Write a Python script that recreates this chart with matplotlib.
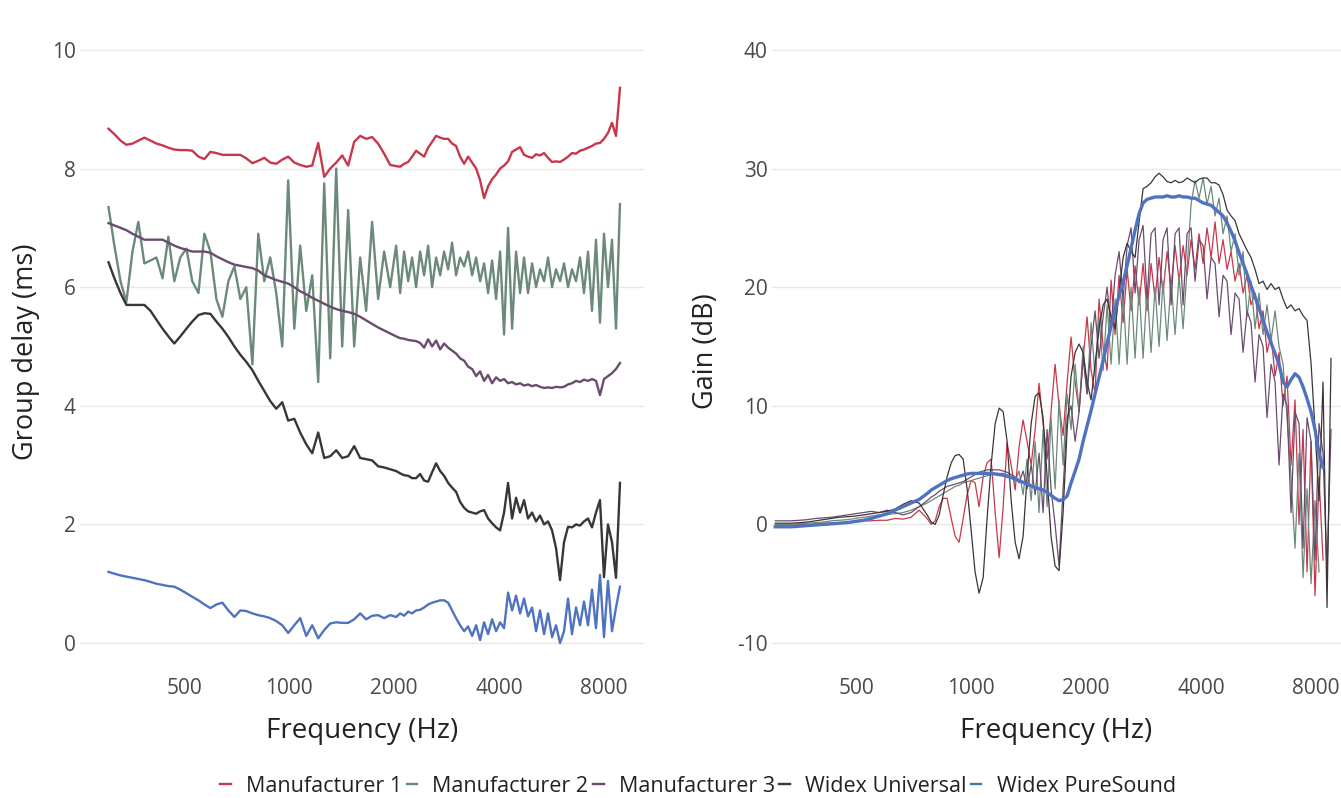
import numpy as np
import matplotlib
matplotlib.use('Agg')
import matplotlib.pyplot as plt
from matplotlib.ticker import FixedLocator, FixedFormatter, NullLocator

plt.rcParams['font.family'] = ['Open Sans', 'DejaVu Sans']
plt.rcParams['axes.unicode_minus'] = False
nan = np.nan

# ---- data -------------------------------------------------------------
series_names = ['Manufacturer 1', 'Manufacturer 2', 'Manufacturer 3',
                'Widex Universal', 'Widex PureSound']
series_colors = ['#c8374c', '#6b8a79', '#6a4c6e', '#3a3536', '#4f73c1']

# left panel: group delay (ms)
freq_gd = [303, 315, 328, 341, 355, 369, 384, 400, 416, 433,
           450, 468, 487, 507, 527, 549, 571, 594, 618, 643,
           669, 696, 724, 753, 784, 815, 848, 882, 918, 955,
           993, 1034, 1075, 1119, 1164, 1211, 1260, 1311, 1364, 1419,
           1476, 1536, 1598, 1662, 1729, 1799, 1872, 1948, 2026,
           2081, 2136, 2194, 2252, 2312, 2374, 2438, 2503, 2570, 2639,
           2710, 2782, 2857, 2933, 3011, 3092, 3175, 3260, 3347, 3437,
           3529, 3623, 3720, 3820, 3922, 4027, 4134, 4245, 4359, 4475,
           4595, 4718, 4844, 4974, 5107, 5243, 5384, 5528, 5676, 5828,
           5984, 6143, 6308, 6476, 6650, 6828, 7010, 7198, 7391, 7588,
           7791, 8000, 8214, 8434, 8660, 8891]

gd_m1 = [8.67, 8.58, 8.47, 8.40, 8.42, 8.47, 8.52, 8.47, 8.42, 8.39,
         8.35, 8.32, 8.31, 8.31, 8.30, 8.20, 8.16, 8.28, 8.26, 8.23,
         8.23, 8.23, 8.23, 8.17, 8.09, 8.13, 8.18, 8.10, 8.08, 8.15,
         8.20, 8.10, 8.06, 8.03, 8.05, 8.43, 7.86, 8.00, 8.10, 8.22,
         8.05, 8.45, 8.55, 8.50, 8.53, 8.42, 8.25, 8.06, 8.04,
         8.03, 8.08, 8.11, 8.20, 8.30, 8.25, 8.20, 8.35, 8.45, 8.55,
         8.52, 8.50, 8.50, 8.42, 8.38, 8.20, 8.08, 8.20, 8.10, 8.00,
         7.80, 7.50, 7.70, 7.82, 7.90, 8.00, 8.05, 8.12, 8.28, 8.32,
         8.36, 8.23, 8.20, 8.18, 8.24, 8.22, 8.26, 8.18, 8.11, 8.12,
         8.11, 8.15, 8.20, 8.26, 8.25, 8.30, 8.32, 8.35, 8.38, 8.42,
         8.43, 8.50, 8.60, 8.77, 8.55, 9.36]

gd_m2 = [7.35, 6.70, 6.10, 5.75, 6.60, 7.10, 6.40, 6.45, 6.50, 6.15,
         6.85, 6.10, 6.50, 6.65, 6.10, 5.90, 6.90, 6.60, 5.80, 5.50,
         6.10, 6.35, 5.80, 6.00, 4.70, 6.90, 6.10, 6.50, 5.90, 5.00,
         7.80, 5.30, 6.70, 5.60, 6.20, 4.40, 7.75, 4.80, 8.00, 5.00,
         7.30, 5.00, 6.50, 5.60, 7.10, 5.80, 6.60, 6.00, 6.70,
         5.90, 6.60, 6.10, 6.50, 6.00, 6.60, 6.20, 6.70, 6.00, 6.50,
         6.20, 6.60, 6.30, 6.75, 6.20, 6.50, 6.35, 6.60, 6.20, 6.50,
         6.10, 6.40, 5.90, 6.45, 5.80, 6.60, 5.20, 7.00, 5.30, 6.60,
         5.90, 6.50, 5.90, 6.40, 6.00, 6.30, 6.10, 6.50, 6.00, 6.30,
         6.10, 6.40, 6.00, 6.30, 6.10, 6.50, 5.90, 6.60, 5.60, 6.80,
         5.40, 6.90, 6.00, 6.80, 5.30, 7.40]

gd_m3 = [7.08, 7.04, 7.00, 6.96, 6.90, 6.85, 6.80, 6.80, 6.80, 6.80,
         6.75, 6.70, 6.66, 6.63, 6.60, 6.60, 6.60, 6.58, 6.52, 6.47,
         6.42, 6.38, 6.36, 6.34, 6.32, 6.28, 6.20, 6.16, 6.12, 6.09,
         6.06, 6.00, 5.93, 5.88, 5.82, 5.77, 5.72, 5.67, 5.63, 5.60,
         5.58, 5.55, 5.50, 5.44, 5.38, 5.32, 5.27, 5.22, 5.17,
         5.14, 5.13, 5.11, 5.10, 5.09, 5.06, 4.98, 5.12, 5.00, 5.10,
         4.95, 5.05, 4.98, 4.93, 4.88, 4.80, 4.76, 4.66, 4.62, 4.50,
         4.58, 4.42, 4.52, 4.38, 4.48, 4.42, 4.45, 4.38, 4.40, 4.36,
         4.38, 4.34, 4.36, 4.33, 4.35, 4.32, 4.30, 4.31, 4.30, 4.32,
         4.31, 4.32, 4.36, 4.38, 4.42, 4.40, 4.44, 4.42, 4.45, 4.42,
         4.18, 4.45, 4.50, 4.55, 4.62, 4.72]

gd_wu = [6.42, 6.15, 5.90, 5.70, 5.70, 5.70, 5.70, 5.60, 5.45, 5.30,
         5.17, 5.05, 5.17, 5.30, 5.42, 5.53, 5.56, 5.55, 5.42, 5.30,
         5.16, 5.00, 4.86, 4.74, 4.60, 4.42, 4.25, 4.08, 3.95, 4.06,
         3.75, 3.78, 3.55, 3.35, 3.20, 3.55, 3.12, 3.15, 3.25, 3.12,
         3.15, 3.32, 3.12, 3.10, 3.08, 2.98, 2.96, 2.93, 2.90,
         2.86, 2.83, 2.82, 2.78, 2.78, 2.85, 2.74, 2.72, 2.88, 3.03,
         2.90, 2.82, 2.70, 2.62, 2.55, 2.38, 2.28, 2.22, 2.20, 2.18,
         2.22, 2.24, 2.10, 2.02, 1.95, 1.90, 2.20, 2.70, 2.10, 2.45,
         2.20, 2.41, 2.10, 2.20, 2.05, 2.15, 2.00, 2.05, 1.90, 1.60,
         1.06, 1.70, 1.96, 1.95, 2.00, 1.98, 2.05, 2.10, 1.95, 2.20,
         2.41, 1.11, 2.00, 1.70, 1.10, 2.70]

gd_ps = [1.20, 1.17, 1.14, 1.12, 1.10, 1.08, 1.06, 1.03, 1.00, 0.98,
         0.96, 0.95, 0.90, 0.84, 0.78, 0.72, 0.65, 0.59, 0.65, 0.68,
         0.55, 0.44, 0.55, 0.54, 0.50, 0.47, 0.45, 0.42, 0.37, 0.30,
         0.17, 0.30, 0.42, 0.12, 0.30, 0.08, 0.22, 0.33, 0.35, 0.34,
         0.34, 0.40, 0.50, 0.40, 0.46, 0.47, 0.42, 0.47, 0.44,
         0.50, 0.46, 0.53, 0.50, 0.55, 0.56, 0.60, 0.65, 0.68, 0.70,
         0.72, 0.72, 0.68, 0.55, 0.42, 0.30, 0.20, 0.28, 0.12, 0.30,
         0.05, 0.35, 0.15, 0.40, 0.20, 0.35, 0.25, 0.85, 0.55, 0.80,
         0.50, 0.75, 0.45, 0.60, 0.20, 0.55, 0.15, 0.50, 0.10, 0.30,
         0.00, 0.20, 0.75, 0.15, 0.60, 0.30, 0.70, 0.30, 0.90, 0.25,
         1.15, 0.10, 1.05, 0.20, 0.60, 0.95]

# right panel: gain (dB)
freq_gain = [307, 322, 338, 355, 372, 391, 410, 430, 451, 474,
             497, 522, 547, 574, 603, 632, 664, 696, 731, 767,
             786, 805, 825, 845, 865, 887, 908, 930, 953, 976,
             1000, 1024, 1049, 1075, 1101, 1128, 1156, 1184, 1213, 1242,
             1273, 1304, 1335, 1368, 1401, 1436, 1471, 1506, 1543, 1581,
             1619, 1659, 1699, 1741, 1784, 1827, 1872, 1917, 1964, 2012,
             2061, 2111, 2163, 2216, 2270, 2325, 2382, 2440, 2500, 2561,
             2623, 2687, 2753, 2820, 2889, 2959, 3031, 3105, 3181, 3259,
             3338, 3420, 3503, 3589, 3676, 3766, 3858, 3952, 4049, 4147,
             4249, 4352, 4459, 4567, 4679, 4793, 4910, 5030, 5153, 5278,
             5407, 5539, 5674, 5813, 5954, 6100, 6249, 6401, 6557, 6717,
             6881, 7049, 7221, 7397, 7578, 7763, 7952, 8146, 8345, 8549, 8757]

gain_m1 = [-0.10, -0.10, -0.05, 0.00, 0.00, 0.05, 0.10, 0.10, 0.15, 0.20,
           0.20, 0.30, 0.30, 0.35, 0.35, 0.50, 0.45, 0.60, 1.20, 0.50,
           0.00, 0.30, 1.50, 2.20, 2.20, 0.50, -1.00, -1.50, 0.50, 2.50,
           3.70, 3.50, 1.50, 4.00, 5.20, 5.50, 1.00, -2.80, 1.50, 6.90,
           5.00, 2.90, 6.50, 8.80, 7.00, 5.00, 8.00, 11.90, 8.50, 5.50,
           9.50, 13.50, 10.00, 7.50, 12.00, 15.80, 12.00, 9.50, 14.00, 17.50,
           13.00, 11.00, 19.00, 15.00, 13.00, 20.60, 16.00, 21.00, 17.00, 21.50,
           18.00, 21.80, 18.50, 22.00, 18.00, 22.00, 19.00, 22.50, 19.50, 23.00,
           20.00, 23.50, 20.50, 23.50, 21.00, 24.00, 21.50, 24.50, 22.00, 25.00,
           22.50, 25.50, 22.00, 24.00, 21.50, 23.00, 20.50, 22.00, 19.50, 21.00,
           18.50, 19.50, 16.50, 18.00, 14.50, 16.00, 12.50, 14.50, 10.00, 12.50,
           5.00, 10.50, 0.00, 8.00, -4.00, 7.00, -6.00, 4.00, -3.00, nan, nan]

gain_m2 = [0.00, 0.00, 0.00, 0.05, 0.10, 0.15, 0.20, 0.30, 0.35, 0.40,
           0.50, 0.60, 0.70, 0.80, 0.85, 0.90, 1.00, 1.20, 1.50, 1.80,
           2.00, 2.20, 2.40, 2.60, 2.80, 3.00, 3.20, 3.30, 3.50, 3.60,
           3.70, 3.80, 3.90, 4.00, 4.10, 4.20, 4.30, 4.30, 4.30, 4.20,
           4.00, 3.60, 4.50, 2.50, 5.50, 2.00, 7.00, 1.00, 8.00, 1.50,
           9.00, 3.00, 10.50, 5.00, 11.00, 8.00, 13.50, 9.50, 15.00, 11.00,
           17.00, 12.50, 17.50, 13.00, 18.50, 13.50, 19.00, 13.50, 19.50, 13.50,
           20.00, 14.00, 20.00, 14.00, 20.00, 14.50, 20.00, 15.00, 20.50, 15.50,
           20.50, 16.00, 21.00, 16.50, 21.50, 27.00, 29.00, 27.50, 29.20, 27.00,
           28.50, 26.00, 27.50, 24.50, 26.00, 23.00, 24.50, 21.00, 23.00, 17.50,
           20.50, 16.50, 19.50, 16.00, 18.50, 15.50, 18.00, 15.00, 13.50, 9.00,
           4.00, -2.00, 6.00, -4.50, 3.00, -5.00, 2.00, -4.00, nan, nan, nan]

gain_m3 = [0.30, 0.30, 0.30, 0.35, 0.40, 0.50, 0.55, 0.60, 0.70, 0.80,
           0.90, 1.00, 1.10, 1.00, 1.20, 1.00, 0.80, 1.00, 1.50, 2.00,
           2.30, 2.50, 2.80, 3.00, 3.20, 3.30, 3.40, 3.50, 3.60, 3.80,
           4.00, 4.20, 4.40, 4.50, 4.60, 4.60, 4.60, 4.60, 4.50, 4.40,
           4.20, 4.00, 3.50, 4.50, 3.00, 5.00, 2.50, 6.00, 1.00, 8.00,
           3.00, 0.00, -3.50, 3.00, 9.00, 10.00, 7.00, 9.50, 14.00, 11.00,
           15.00, 18.00, 14.00, 17.50, 20.00, 16.50, 21.00, 23.00, 19.00, 23.50,
           25.00, 19.50, 24.00, 25.20, 19.00, 24.50, 25.00, 18.50, 24.00, 25.00,
           18.50, 24.50, 25.00, 18.50, 24.50, 25.00, 20.50, 24.00, 23.50, 19.00,
           22.50, 22.00, 17.50, 21.00, 20.50, 16.00, 19.50, 19.00, 14.50, 18.00,
           17.00, 12.00, 16.00, 15.00, 9.00, 13.50, 12.00, 5.00, 11.00, 10.00,
           1.00, 9.50, 8.50, -2.00, 9.00, 7.00, -3.00, 8.50, 6.00, -4.00, 8.00]

gain_wu = [0.10, 0.10, 0.10, 0.15, 0.20, 0.30, 0.40, 0.50, 0.60, 0.65,
           0.70, 0.80, 0.90, 1.00, 1.10, 1.30, 1.70, 2.00, 1.80, 0.80,
           0.20, 0.00, 0.80, 2.50, 4.00, 5.20, 5.80, 5.90, 5.50, 3.00,
           -0.50, -4.00, -5.80, -4.50, 0.50, 5.00, 8.50, 9.80, 9.50, 7.00,
           2.00, -1.50, -2.90, -1.00, 4.00, 8.50, 10.80, 11.10, 9.00, 4.00,
           -1.00, -3.50, -3.90, 1.00, 8.00, 12.50, 14.50, 15.20, 14.50, 12.00,
           10.50, 13.50, 16.50, 18.50, 19.00, 17.50, 16.50, 19.50, 22.50, 23.70,
           23.00, 22.50, 25.50, 28.30, 28.50, 28.80, 29.30, 29.60, 29.30, 28.90,
           28.80, 29.00, 28.80, 28.90, 29.20, 29.00, 28.80, 29.10, 29.20, 29.20,
           28.80, 28.80, 28.60, 27.80, 26.50, 26.00, 25.60, 24.50, 23.80, 23.10,
           22.50, 21.50, 20.30, 20.50, 19.80, 20.30, 19.80, 20.00, 19.00, 18.20,
           18.50, 18.00, 18.20, 17.60, 17.20, 13.60, 8.00, 2.00, 12.00, -7.00, 14.00]

gain_ps = [-0.20, -0.20, -0.20, -0.15, -0.10, -0.05, 0.00, 0.05, 0.10, 0.15,
           0.25, 0.35, 0.50, 0.70, 0.90, 1.20, 1.50, 1.80, 2.10, 2.60,
           2.90, 3.10, 3.30, 3.50, 3.70, 3.85, 3.95, 4.05, 4.15, 4.25,
           4.30, 4.30, 4.30, 4.30, 4.30, 4.30, 4.25, 4.20, 4.15, 4.05,
           3.95, 3.85, 3.70, 3.55, 3.40, 3.25, 3.10, 3.00, 2.90, 2.70,
           2.45, 2.20, 2.00, 2.10, 2.40, 3.50, 4.50, 5.50, 7.00, 8.30,
           9.60, 11.00, 12.40, 13.80, 15.30, 16.70, 18.00, 19.30, 20.40, 21.80,
           23.30, 24.80, 26.20, 27.10, 27.40, 27.50, 27.60, 27.60, 27.60, 27.70,
           27.60, 27.60, 27.70, 27.60, 27.60, 27.50, 27.50, 27.30, 27.10, 27.00,
           26.90, 26.60, 26.30, 26.00, 25.40, 24.70, 23.90, 22.90, 22.00, 21.10,
           20.10, 19.20, 18.20, 17.20, 16.20, 15.30, 14.40, 13.50, 12.00, 11.60,
           12.20, 12.70, 12.40, 11.60, 10.60, 9.50, 8.00, 6.00, 4.80, nan, nan]

freq_ticks = [500, 1000, 2000, 4000, 8000]
gd_ticks = [0, 2, 4, 6, 8, 10]
gain_ticks = [-10, 0, 10, 20, 30, 40]

# ---- figure ------------------------------------------------------------
fig = plt.figure(figsize=(13.41, 7.98), dpi=100)
axL = fig.add_axes([80 / 1341, 133 / 798, 564 / 1341, 627 / 798])
axR = fig.add_axes([772 / 1341, 133 / 798, 569 / 1341, 627 / 798])

gd_series = [gd_m1, gd_m2, gd_m3, gd_wu, gd_ps]
gain_series = [gain_m1, gain_m2, gain_m3, gain_wu, gain_ps]

lines = []
for name, col, vals in zip(series_names, series_colors, gd_series):
    ln, = axL.plot(freq_gd, vals, color=col, lw=1.7, label=name)
    lines.append(ln)
for name, col, vals in zip(series_names, series_colors, gain_series):
    lw = 2.4 if name == 'Widex PureSound' else 0.9
    axR.plot(freq_gain, vals, color=col, lw=lw)

for ax, yt, ylim, xlim, ylab in [
        (axL, gd_ticks, (-0.37, 10.2), (251, 10420), 'Group delay (ms)'),
        (axR, gain_ticks, (-11.85, 41.0), (301, 9300), 'Gain (dB)')]:
    ax.set_xscale('log')
    ax.set_xlim(xlim)
    ax.set_ylim(ylim)
    ax.xaxis.set_major_locator(FixedLocator(freq_ticks))
    ax.xaxis.set_major_formatter(FixedFormatter([str(t) for t in freq_ticks]))
    ax.xaxis.set_minor_locator(NullLocator())
    ax.set_yticks(yt)
    ax.grid(axis='y', color='#e8e8e8', lw=1)
    ax.set_axisbelow(True)
    for s in ax.spines.values():
        s.set_visible(False)
    ax.tick_params(axis='both', length=0, labelsize=15, colors='#4a4a4a')
    ax.tick_params(axis='x', pad=9)
    ax.tick_params(axis='y', pad=3)
    ax.set_xlabel('Frequency (Hz)', fontsize=20, color='#222222')
    ax.set_ylabel(ylab, fontsize=19.5, color='#222222')
    ax.xaxis.set_label_coords(0.5, -0.083)

axL.yaxis.set_label_coords(-0.071, 0.5)
axR.yaxis.set_label_coords(-0.091, 0.5)

fig.legend(lines, series_names, loc='center', bbox_to_anchor=(698 / 1341, 1 - 786 / 798),
           ncol=5, frameon=False, fontsize=15.5, handlelength=0.5, handletextpad=0.7,
           columnspacing=0.2, labelcolor='#222222')

fig.savefig('out.png', dpi=100)
